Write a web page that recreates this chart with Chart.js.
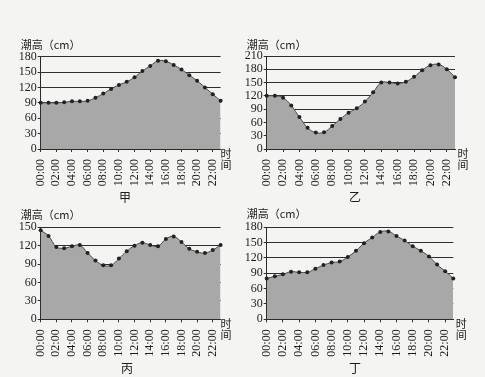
<!DOCTYPE html>
<html>
<head>
<meta charset="utf-8">
<script src="https://cdn.jsdelivr.net/npm/chart.js@4.4.1/dist/chart.umd.min.js"></script>
<style>
  html, body { margin: 0; padding: 0; background: #f4f4f2; }
  body { width: 485px; height: 377px; position: relative; overflow: hidden; }
  canvas { position: absolute; }
  .cap { position: absolute; width: 30px; margin-left: -15px; text-align: center;
         font: 12px "Noto Sans CJK SC"; line-height: 16px; color: #1c1c1c; }
</style>
</head>
<body>
<canvas id="c1" width="242" height="170" style="left:0;top:30px"></canvas>
<canvas id="c2" width="243" height="170" style="left:242px;top:30px"></canvas>
<canvas id="c3" width="242" height="172" style="left:0;top:205px"></canvas>
<canvas id="c4" width="243" height="172" style="left:242px;top:205px"></canvas>
<div class="cap" style="left:125px;top:189px">甲</div>
<div class="cap" style="left:355px;top:189px">乙</div>
<div class="cap" style="left:127px;top:360px">丙</div>
<div class="cap" style="left:355px;top:360px">丁</div>
<script>
const hours = ["00:00", "01:00", "02:00", "03:00", "04:00", "05:00", "06:00", "07:00",
  "08:00", "09:00", "10:00", "11:00", "12:00", "13:00", "14:00", "15:00",
  "16:00", "17:00", "18:00", "19:00", "20:00", "21:00", "22:00", "23:00"];

const tideJia = [90, 90, 90, 91, 93, 93, 94, 100, 108, 117, 125, 131, 140, 152, 162, 172, 171, 164, 155, 144, 133, 120, 107, 94];
const tideYi = [120, 120, 116, 98, 72, 48, 37, 38, 52, 68, 82, 92, 107, 128, 150, 150, 148, 152, 163, 178, 189, 191, 180, 162];
const tideBing = [145, 136, 118, 116, 119, 121, 108, 96, 88, 88, 99, 111, 120, 125, 121, 119, 131, 135, 126, 115, 110, 108, 113, 121];
const tideDing = [80, 84, 88, 93, 92, 92, 99, 106, 111, 113, 122, 134, 149, 160, 171, 172, 163, 154, 143, 134, 123, 107, 94, 80];

const yMax = [180, 210, 150, 180];
const yStep = 30;
const yTitle = "潮高（cm）";
const xTitle = ["时", "间"];

const ink = "#1c1c1c";
const gridColor = "#2e2e2e";
const numFont = '"Liberation Serif", serif';

// title above the y axis and the stacked "时间" at the end of the x axis
const panelText = {
  id: "panelText",
  afterDraw(chart, args, opts) {
    const { ctx, chartArea } = chart;
    ctx.save();
    ctx.fillStyle = ink;
    ctx.textBaseline = "middle";
    ctx.textAlign = "left";
    ctx.font = '11px "Noto Sans CJK SC"';
    ctx.fillText(yTitle, chartArea.left - opts.titleDx, chartArea.top - opts.titleDy);
    ctx.textAlign = "center";
    ctx.fillText(xTitle[0], chartArea.right + opts.unitDx, chartArea.bottom + 5);
    ctx.fillText(xTitle[1], chartArea.right + opts.unitDx, chartArea.bottom + 16);
    ctx.restore();
  },
};

function makePanel(id, values, max, box) {
  return new Chart(document.getElementById(id), {
    type: "line",
    data: {
      labels: hours,
      datasets: [{
        data: values,
        fill: "origin",
        backgroundColor: "#a8a8a8",
        borderColor: "#4a4a4a",
        borderWidth: 1,
        tension: 0.4,
        pointRadius: 2,
        pointBackgroundColor: "#222",
        pointBorderWidth: 0,
      }],
    },
    options: {
      responsive: false,
      animation: false,
      layout: { padding: { top: box.top, right: box.right, left: 0, bottom: 0 } },
      plugins: {
        legend: { display: false },
        tooltip: { enabled: false },
        panelText: box,
      },
      scales: {
        x: {
          z: 1,
          offset: false,
          border: { color: "#2a2a2a", width: 1 },
          grid: {
            drawOnChartArea: false,
            tickLength: 3,
            tickColor: (c) => (c.index % 2 ? "transparent" : "#333"),
          },
          ticks: {
            autoSkip: false,
            minRotation: 90,
            maxRotation: 90,
            padding: 7,
            color: ink,
            font: { family: numFont, size: 12 },
            callback(v, i) { return i % 2 ? "" : this.getLabelForValue(v); },
          },
          afterFit(s) { s.height = box.xh; },
        },
        y: {
          z: 1,
          min: 0,
          max: max,
          border: { color: "#2a2a2a", width: 1 },
          grid: { color: gridColor, lineWidth: 1, tickLength: 3 },
          ticks: {
            stepSize: yStep,
            autoSkip: false,
            padding: 1,
            color: ink,
            font: { family: numFont, size: 12 },
          },
          afterFit(s) { s.width = box.yw; },
        },
      },
    },
    plugins: [panelText],
  });
}

makePanel("c1", tideJia, yMax[0], { top: 26.7, right: 15, xh: 51, yw: 40.7, titleDx: 20, titleDy: 11.7, unitDx: 5.5 });
makePanel("c2", tideYi, yMax[1], { top: 26, right: 30, xh: 51, yw: 24.7, titleDx: 20, titleDy: 11, unitDx: 8 });
makePanel("c3", tideBing, yMax[2], { top: 22.3, right: 16, xh: 57.7, yw: 40.7, titleDx: 20, titleDy: 12.3, unitDx: 5.5 });
makePanel("c4", tideDing, yMax[3], { top: 22.3, right: 31.7, xh: 57.7, yw: 24.7, titleDx: 20, titleDy: 13, unitDx: 8 });
</script>
</body>
</html>
